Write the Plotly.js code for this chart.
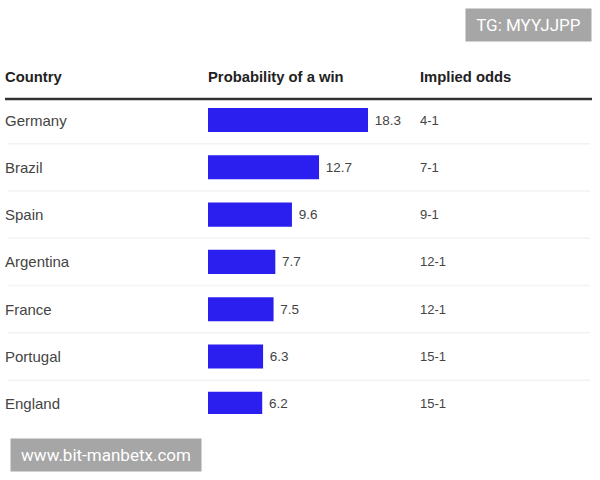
<!DOCTYPE html>
<html><head><meta charset="utf-8">
<script src="https://cdn.plot.ly/plotly-3.0.1.min.js"></script>
<style>html,body{margin:0;padding:0;background:#fff;}#chart{width:600px;height:480px;}</style>
</head><body><div id="chart"></div>
<script>
const countries = ["Germany","Brazil","Spain","Argentina","France","Portugal","England"];
const probability = [18.3,12.7,9.6,7.7,7.5,6.3,6.2];
const odds = ["4-1","7-1","9-1","12-1","12-1","15-1","15-1"];
const headers = ["Country","Probability of a win","Implied odds"];
const watermarkTop = "TG: MYYJJPP";
const watermarkBottom = "www.bit-manbetx.com";

const W = 600, H = 480;
const px = x => x / W;
const py = y => 1 - y / H;
const rowStep = 47.3, firstRow = 120, axTop = 100, axBot = 414;
const font = "Liberation Sans, Arial, sans-serif";

const trace = {
  type: "bar", orientation: "h",
  x: probability, y: countries,
  marker: {color: "#2a1fee", line: {width: 0}},
  width: 0.51,
  text: probability.map(v => "\u00a0" + v.toFixed(1)),
  textposition: "outside",
  textfont: {family: font, size: 13.5, color: "#444"},
  cliponaxis: true,
  hoverinfo: "skip"
};

const annotations = [];
countries.forEach((c, i) => {
  annotations.push({xref: "paper", yref: "y", x: px(3), y: c, text: c, showarrow: false,
    xanchor: "left", yanchor: "middle", font: {family: font, size: 15, color: "#444"}});
  annotations.push({xref: "paper", yref: "y", x: px(418), y: c, text: odds[i], showarrow: false,
    xanchor: "left", yanchor: "middle", font: {family: font, size: 13, color: "#444"}});
});
const hx = [3, 206, 418];
headers.forEach((h, i) => {
  annotations.push({xref: "paper", yref: "paper", x: px(hx[i]), y: py(77), text: "<b>" + h + "</b>",
    showarrow: false, xanchor: "left", yanchor: "middle", font: {family: font, size: 14.8, color: "#222"}});
});
annotations.push({xref: "paper", yref: "paper", x: px(465), y: py(25), text: watermarkTop, showarrow: false,
  xanchor: "left", yanchor: "middle", bgcolor: "#a6a6a6", borderpad: 6, width: 113, align: "center",
  font: {family: "Roboto, sans-serif", size: 17, color: "#fff"}});
annotations.push({xref: "paper", yref: "paper", x: px(10), y: py(455), text: watermarkBottom, showarrow: false,
  xanchor: "left", yanchor: "middle", bgcolor: "#a6a6a6", borderpad: 6, width: 178, align: "center",
  font: {family: "Roboto, sans-serif", size: 17, color: "#fff"}});

const shapes = [{type: "line", xref: "paper", yref: "paper", x0: px(5), x1: px(592), y0: py(99), y1: py(99),
  line: {color: "#333", width: 2.5}}];
for (let i = 0; i < countries.length - 1; i++) {
  shapes.push({type: "line", xref: "paper", yref: "y", x0: px(8), x1: px(590), y0: i + 0.5, y1: i + 0.5,
    line: {color: "#f2f2f2", width: 1.5}, layer: "below"});
}

const pxPerUnit = 160 / 18.3;
const layout = {
  width: W, height: H, margin: {l: 0, r: 0, t: 0, b: 0},
  paper_bgcolor: "#fff", plot_bgcolor: "rgba(0,0,0,0)",
  showlegend: false,
  xaxis: {domain: [px(208), 1], range: [0, (W - 208) / pxPerUnit], visible: false, fixedrange: true},
  yaxis: {domain: [py(axBot), py(axTop)], visible: false, type: "category", categoryorder: "array",
    categoryarray: countries,
    range: [(axBot - firstRow) / rowStep, (axTop - firstRow) / rowStep]},
  annotations: annotations, shapes: shapes
};
Plotly.newPlot("chart", [trace], layout, {displayModeBar: false, staticPlot: true});
</script></body></html>
